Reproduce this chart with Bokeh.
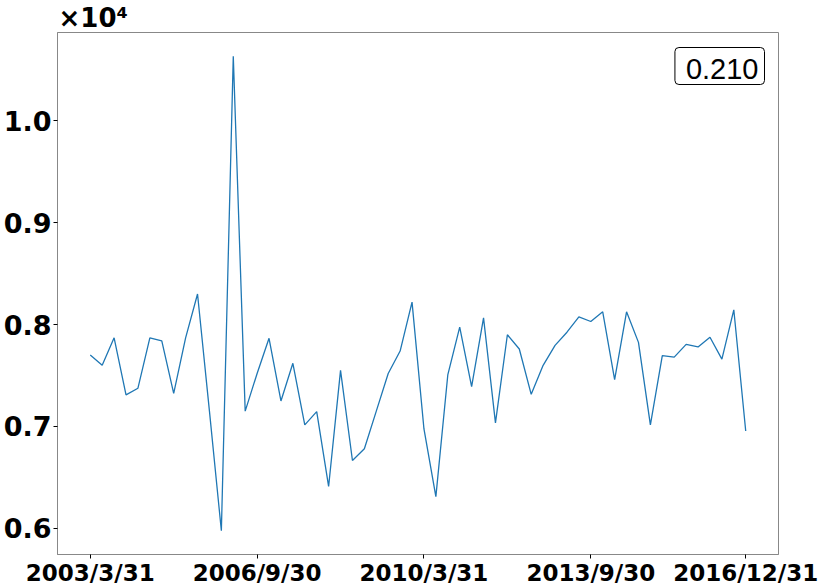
from bokeh.plotting import figure
from bokeh.models import FixedTicker, CustomJSTickFormatter, Label, Range1d, Title
from bokeh.embed import file_html
from bokeh.resources import INLINE

# quarterly dates 2003Q1 .. 2016Q4
quarter_ends = ["3/31", "6/30", "9/30", "12/31"]
dates = [f"{y}/{q}" for y in range(2003, 2017) for q in quarter_ends]

values = [7700, 7600, 7870, 7310, 7375, 7870, 7840, 7325, 7870, 8300,
          7150, 5975, 10635, 7150, 7520, 7865, 7250, 7620, 7015, 7145,
          6410, 7550, 6665, 6780, 7150, 7520, 7740, 8220, 6975, 6310,
          7505, 7975, 7390, 8065, 7035, 7900, 7760, 7315, 7600, 7795,
          7925, 8075, 8030, 8125, 7460, 8125, 7825, 7015, 7695, 7680,
          7805, 7780, 7875, 7660, 8145, 6955]

tick_idx = [0, 14, 28, 42, 55]
y_ticks = [6000, 7000, 8000, 9000, 10000]
box_text = "0.210"
offset_text = "×10⁴"

xs = list(range(len(values)))
n = len(values) - 1
xpad = 0.05 * n
vmin, vmax = min(values), max(values)
ypad = 0.05 * (vmax - vmin)
y0, y1 = vmin - ypad, vmax + ypad

p = figure(width=830, height=588, output_backend="svg", toolbar_location=None,
           x_range=Range1d(-xpad, n + xpad), y_range=Range1d(y0, y1),
           min_border_top=25, min_border_right=52, min_border_left=0, min_border_bottom=0)

p.line(xs, values, line_color="#1f77b4", line_width=1.3)

p.xgrid.visible = False
p.ygrid.visible = False
p.outline_line_color = "#888888"
p.outline_line_width = 1

p.xaxis.ticker = FixedTicker(ticks=tick_idx)
p.xaxis.major_label_overrides = {i: dates[i] for i in tick_idx}
p.xaxis.minor_tick_line_color = None
p.xaxis.major_tick_in = 0
p.xaxis.major_tick_out = 4
p.xaxis.major_label_standoff = 1
p.xaxis.major_label_text_font = "DejaVu Sans"
p.xaxis.major_label_text_font_style = "bold"
p.xaxis.major_label_text_font_size = "23px"
p.xaxis.major_label_text_color = "black"
p.xaxis.axis_line_color = "#888888"

p.yaxis.ticker = FixedTicker(ticks=y_ticks)
p.yaxis.formatter = CustomJSTickFormatter(code="return (tick/10000).toFixed(1);")
p.yaxis.minor_tick_line_color = None
p.yaxis.major_tick_in = 0
p.yaxis.major_tick_out = 4
p.yaxis.major_label_standoff = 2
p.yaxis.major_label_text_font = "DejaVu Sans"
p.yaxis.major_label_text_font_style = "bold"
p.yaxis.major_label_text_font_size = "27px"
p.yaxis.major_label_text_color = "black"
p.yaxis.axis_line_color = "#888888"

# offset text above the y axis (as a left-aligned title)
p.add_layout(Title(text=offset_text, align="left", text_font="DejaVu Sans",
                   text_font_style="bold", text_font_size="26px",
                   text_line_height=0.8,
                   text_color="black", offset=1, standoff=0), "above")

# boxed annotation top right
p.add_layout(Label(x=n + xpad, y=y1, text=box_text, text_font="Liberation Sans",
                   text_font_size="29px", text_align="right", text_baseline="top",
                   x_offset=-14, y_offset=-15, text_color="black",
                   background_fill_color="white", border_line_color="black",
                   border_line_width=1, border_radius=4, padding=(11, 6, 11, 6)))

open("out.html", "w").write(file_html(p, INLINE))
